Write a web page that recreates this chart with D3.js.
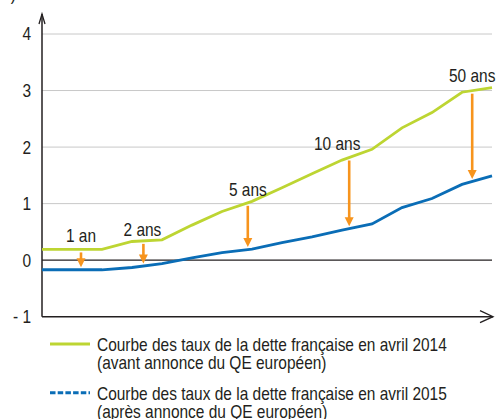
<!DOCTYPE html>
<html>
<head>
<meta charset="utf-8">
<script src="https://cdn.jsdelivr.net/npm/d3@7"></script>
<style>
  body { margin: 0; background: #fff; }
  text { font-family: "Liberation Sans", Arial, sans-serif; fill: #231f20; font-size: 18px; }
</style>
</head>
<body>
<svg id="chart" width="496" height="419"></svg>
<script>
// maturity points (evenly spaced on the curve), rates in %
var steps = d3.range(16)
var taux2014 = [0.19, 0.19, 0.19, 0.33, 0.36, 0.62, 0.86, 1.04, 1.28, 1.53, 1.77, 1.96, 2.34, 2.61, 2.97, 3.05]
var taux2015 = [-0.17, -0.17, -0.17, -0.13, -0.06, 0.04, 0.135, 0.195, 0.31, 0.41, 0.53, 0.64, 0.93, 1.09, 1.34, 1.49]
var yTicks = [-1, 0, 1, 2, 3, 4]
var arrowAt = [1.3, 3.38, 6.86, 10.24, 14.34]
var arrowLabels = ["1 an", "2 ans", "5 ans", "10 ans", "50 ans"]
var legendLines = [
  ["Courbe des taux de la dette française en avril 2014", "(avant annonce du QE européen)"],
  ["Courbe des taux de la dette française en avril 2015", "(après annonce du QE européen)"]
]

var green = "#bdd532", blue = "#0a6db6", orange = "#f7941d"
var narrow = 0.86   // the original font is a condensed grotesque

var svg = d3.select("#chart")

var x = d3.scaleLinear().domain([0, 15]).range([42, 492])
var y = d3.scaleLinear().domain([-1, 4]).range([316.7, 34])

function place(px, py) { return "translate(" + px + "," + py + ") scale(" + narrow + ",1)" }

// unit label, mostly cut off at the top
svg.append("text")
  .attr("transform", place(16, 0))
  .attr("text-anchor", "end")
  .text("(en %)")

// grid
svg.selectAll(".grid")
  .data(yTicks.filter(d => d > 0))
  .enter().append("line")
  .attr("x1", x(0)).attr("x2", x(15))
  .attr("y1", d => y(d)).attr("y2", d => y(d))
  .attr("stroke", "#c8c8c8").attr("stroke-width", 1)

svg.append("line")
  .attr("x1", x(0)).attr("x2", x(15))
  .attr("y1", y(0)).attr("y2", y(0))
  .attr("stroke", "#231f20").attr("stroke-width", 1.2)

// tick labels
svg.selectAll(".tick")
  .data(yTicks)
  .enter().append("text")
  .attr("transform", d => place(31, y(d)))
  .attr("dy", "0.36em")
  .attr("text-anchor", "end")
  .text(d => d < 0 ? "- " + Math.abs(d) : d)

// axes with open arrows
var axisCol = "#231f20"
svg.append("line")
  .attr("x1", x(0)).attr("x2", x(0))
  .attr("y1", y(-1)).attr("y2", 14)
  .attr("stroke", axisCol).attr("stroke-width", 1.5)
svg.append("path")
  .attr("d", "M" + (x(0) - 3) + ",24L" + x(0) + ",14L" + (x(0) + 3) + ",24")
  .attr("fill", "none").attr("stroke", axisCol).attr("stroke-width", 1.3)
svg.append("line")
  .attr("x1", x(0)).attr("x2", 493)
  .attr("y1", y(-1)).attr("y2", y(-1))
  .attr("stroke", axisCol).attr("stroke-width", 1.5)
svg.append("path")
  .attr("d", "M480," + (y(-1) - 6) + "L493," + y(-1) + "L480," + (y(-1) + 6))
  .attr("fill", "none").attr("stroke", axisCol).attr("stroke-width", 1.3)

// curves
var line = d3.line().x((d, i) => x(steps[i])).y(d => y(d))

svg.append("path").datum(taux2014)
  .attr("d", line)
  .attr("fill", "none").attr("stroke", green).attr("stroke-width", 2.8)

svg.append("path").datum(taux2015)
  .attr("d", line)
  .attr("fill", "none").attr("stroke", blue).attr("stroke-width", 2.8)

// arrows between the two curves
function interp(series, t) {
  var i = Math.min(Math.floor(t), series.length - 2)
  var f = t - i
  return series[i] * (1 - f) + series[i + 1] * f
}
var labelGap = [7, 5, 7, 8, 9]
var labelShift = [0, -1, 0, -12, 0]

var arrows = svg.selectAll(".arrow")
  .data(arrowAt)
  .enter().append("g")

arrows.append("line")
  .attr("x1", d => x(d)).attr("x2", d => x(d))
  .attr("y1", d => y(interp(taux2014, d)) + 3)
  .attr("y2", d => y(interp(taux2015, d)) - 9)
  .attr("stroke", orange).attr("stroke-width", 2.6)

arrows.append("path")
  .attr("d", function(d) {
    var px = x(d), tip = y(interp(taux2015, d)) - 2.5
    return "M" + (px - 4.5) + "," + (tip - 9) + "L" + (px + 4.5) + "," + (tip - 9) + "L" + px + "," + tip + "Z"
  })
  .attr("fill", orange)

arrows.append("text")
  .attr("transform", (d, i) => place(x(d) + labelShift[i], y(interp(taux2014, d)) - labelGap[i]))
  .attr("text-anchor", "middle")
  .text((d, i) => arrowLabels[i])

// legend
var legend = svg.selectAll(".legend")
  .data(legendLines)
  .enter().append("g")
  .attr("transform", (d, i) => "translate(0," + (344 + i * 48.7) + ")")

legend.append("line")
  .attr("x1", 50).attr("x2", 90)
  .attr("y1", 0).attr("y2", 0)
  .attr("stroke", (d, i) => i === 0 ? green : blue)
  .attr("stroke-width", 3)
  .attr("stroke-dasharray", (d, i) => i === 0 ? null : "5.5,2.2")

legend.selectAll(".lt")
  .data(d => d)
  .enter().append("text")
  .attr("transform", (d, i) => place(97, 7 + i * 18))
  .text(d => d)
</script>
</body>
</html>
